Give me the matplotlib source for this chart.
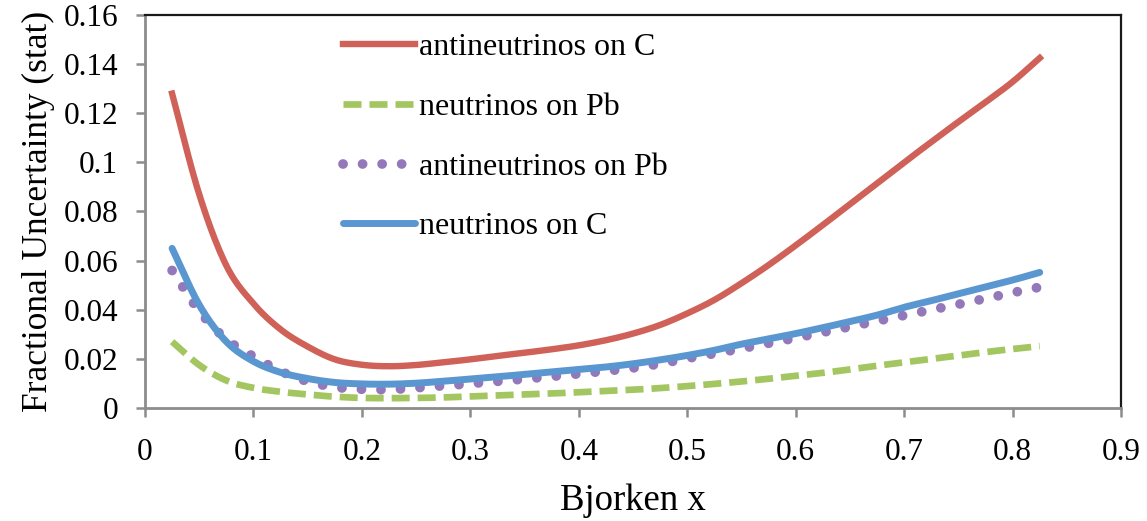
import numpy as np
import matplotlib
matplotlib.use("Agg")
import matplotlib.pyplot as plt

plt.rcParams['font.family'] = ['Liberation Serif', 'DejaVu Serif']

bjorken_x = [0.025, 0.05, 0.075, 0.1, 0.125, 0.15, 0.175, 0.2, 0.225, 0.25, 0.275,
             0.3, 0.325, 0.35, 0.375, 0.4, 0.425, 0.45, 0.475, 0.5, 0.525, 0.55,
             0.575, 0.6, 0.625, 0.65, 0.675, 0.7, 0.725, 0.75, 0.775, 0.8, 0.825]

anti_c = [0.128, 0.087, 0.058, 0.0425, 0.032, 0.025, 0.0198, 0.0176, 0.0170, 0.0175, 0.0186,
          0.0198, 0.0212, 0.0225, 0.0239, 0.0255, 0.0276, 0.0303, 0.0338, 0.0385, 0.0440, 0.0508,
          0.0582, 0.0662, 0.0745, 0.0830, 0.0915, 0.1000, 0.1083, 0.1165, 0.1245, 0.1328, 0.1425]

nu_pb = [0.027, 0.0175, 0.0112, 0.0082, 0.0066, 0.0055, 0.0046, 0.0041, 0.0040, 0.0041, 0.0043,
         0.0047, 0.0051, 0.0055, 0.0059, 0.0064, 0.0069, 0.0074, 0.0081, 0.0089, 0.0098, 0.0108,
         0.0119, 0.0131, 0.0143, 0.0157, 0.0172, 0.0186, 0.0200, 0.0214, 0.0228, 0.0240, 0.0252]

anti_pb = [0.056, 0.0395, 0.028, 0.021, 0.015, 0.0108, 0.0085, 0.0076, 0.0075, 0.0082, 0.0090,
           0.0099, 0.0108, 0.0118, 0.0128, 0.0139, 0.0150, 0.0163, 0.0180, 0.0202, 0.0221, 0.0242,
           0.0263, 0.0285, 0.0308, 0.0331, 0.0354, 0.0377, 0.0399, 0.0422, 0.0446, 0.0470, 0.0492]

nu_c = [0.065, 0.042, 0.027, 0.019, 0.0145, 0.0120, 0.0104, 0.0098, 0.0097, 0.0101, 0.0109,
        0.0118, 0.0127, 0.0137, 0.0147, 0.0157, 0.0167, 0.0180, 0.0196, 0.0214, 0.0235, 0.0260,
        0.0281, 0.0303, 0.0327, 0.0352, 0.0378, 0.0410, 0.0437, 0.0465, 0.0493, 0.0521, 0.0552]

y_ticks = [0, 0.02, 0.04, 0.06, 0.08, 0.1, 0.12, 0.14, 0.16]
y_labels = ['0', '0.02', '0.04', '0.06', '0.08', '0.1', '0.12', '0.14', '0.16']
x_ticks = [0, 0.1, 0.2, 0.3, 0.4, 0.5, 0.6, 0.7, 0.8, 0.9]
x_labels = ['0', '0.1', '0.2', '0.3', '0.4', '0.5', '0.6', '0.7', '0.8', '0.9']


def smooth(x, y, n=12):
    """Catmull-Rom curve through the points, like Excel's smoothed lines."""
    x = np.asarray(x, float)
    y = np.asarray(y, float)
    px = np.concatenate([[2 * x[0] - x[1]], x, [2 * x[-1] - x[-2]]])
    py = np.concatenate([[2 * y[0] - y[1]], y, [2 * y[-1] - y[-2]]])
    t = np.linspace(0, 1, n, endpoint=False)
    xs, ys = [], []
    for i in range(1, len(px) - 2):
        for p, out in ((px, xs), (py, ys)):
            p0, p1, p2, p3 = p[i - 1], p[i], p[i + 1], p[i + 2]
            out.extend(0.5 * (2 * p1 + (-p0 + p2) * t
                              + (2 * p0 - 5 * p1 + 4 * p2 - p3) * t ** 2
                              + (-p0 + 3 * p1 - 3 * p2 + p3) * t ** 3))
    xs.append(x[-1])
    ys.append(y[-1])
    return xs, ys


fig = plt.figure(figsize=(11.47, 5.21), dpi=100)
ax = fig.add_axes([0.1264, 0.2169, 0.851, 0.7543])

ax.plot(*smooth(bjorken_x, anti_c), color='#CF6158', lw=4.6, label='antineutrinos on C')
ax.plot(*smooth(bjorken_x, nu_pb), color='#A3C660', lw=4.8, linestyle=(0, (2.7, 1.2)),
        dash_capstyle='butt', label='neutrinos on Pb')
ax.plot(*smooth(bjorken_x, anti_pb), color='#9479BA', lw=7, linestyle=(0, (0.01, 2.0)),
        dash_capstyle='round', label='antineutrinos on Pb')
ax.plot(*smooth(bjorken_x, nu_c), color='#5A97D0', lw=5, solid_capstyle='round',
        label='neutrinos on C')

ax.set_xlim(0, 0.9)
ax.set_ylim(0, 0.16)
ax.set_xticks(x_ticks)
ax.set_xticklabels(x_labels)
ax.set_yticks(y_ticks)
ax.set_yticklabels(y_labels)
ax.tick_params(labelsize=22.5, length=6.5, width=1.8, color='#8C8C8C', direction='out')
ax.tick_params(axis='y', pad=13)
ax.tick_params(axis='x', pad=15)

for side in ['left', 'bottom']:
    ax.spines[side].set_color('#8C8C8C')
    ax.spines[side].set_linewidth(2)
for side in ['top', 'right']:
    ax.spines[side].set_color('#1A1A1A')
    ax.spines[side].set_linewidth(1.6)

ax.set_xlabel('Bjorken x', fontsize=26.5, labelpad=12)
ax.set_ylabel('Fractional Uncertainty (stat)', fontsize=25.5, labelpad=6)

ax.legend(loc='upper left', bbox_to_anchor=(343 / 1147, 1 - 33 / 521),
          bbox_transform=fig.transFigure, frameon=False, fontsize=23,
          borderpad=0, borderaxespad=0, handlelength=2.25, handletextpad=0.12,
          labelspacing=0.95)

fig.savefig('out.png', dpi=100)
